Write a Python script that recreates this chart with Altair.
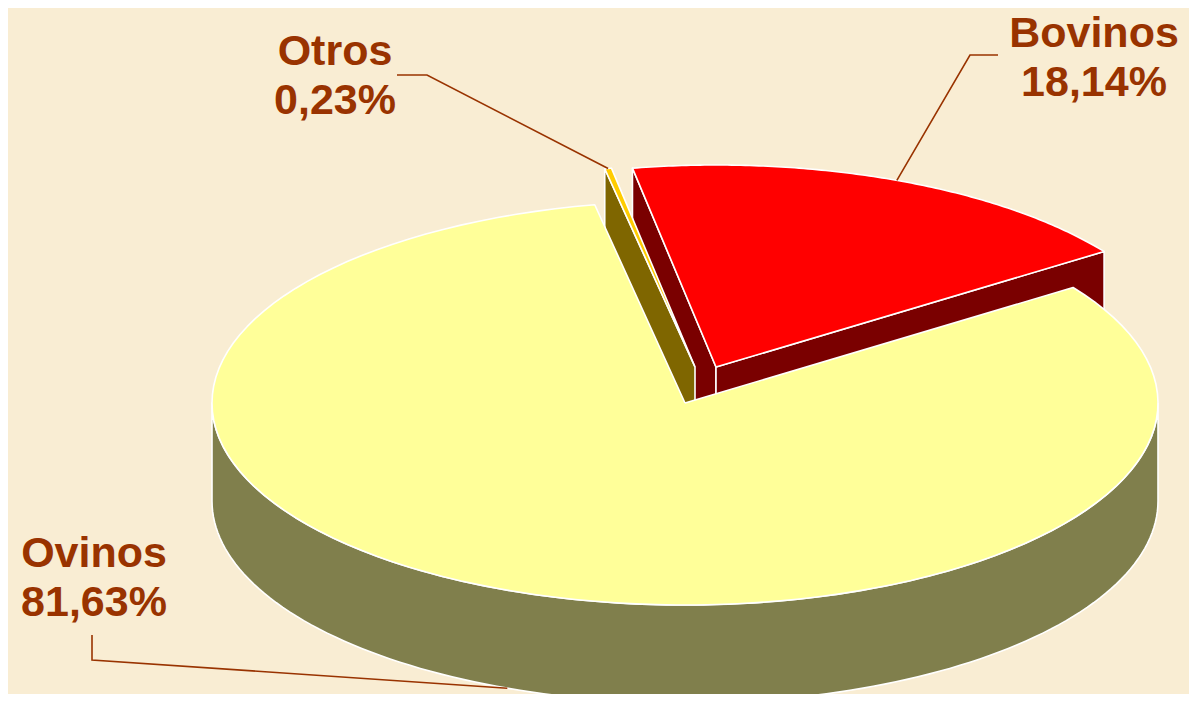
import altair as alt
import pandas as pd

# ---- data ----
categories = ["Otros", "Bovinos", "Ovinos"]
shares = [0.23, 18.14, 81.63]

# ---- style / layout constants ----
top_colors = {"Otros": "#FFCC00", "Bovinos": "#FF0000", "Ovinos": "#FFFF99"}
side_colors = {"Otros": "#7F6600", "Bovinos": "#7A0000", "Ovinos": "#807F4C"}
explode_px = {"Otros": (10, 36), "Bovinos": (31, 36), "Ovinos": (0, 0)}
# text x, first baseline y, leader start x/y, elbow x/y (screen px)
label_layout = {
    "Otros": (335, 65, 397, 75, 427, 75),
    "Bovinos": (1094, 47, 998, 55, 970, 55),
    "Ovinos": (94, 567, 92, 635, 92, 660),
}
LABEL_COLOR = "#993300"
BG = "#F9EDD3"
CX, CY = 685, 403          # pie centre on screen
RX, RY = 473, 202          # ellipse radii
DEPTH = 98                 # pie thickness
START_DEG = -11
N = 120
W, H = 1181, 686

data = pd.DataFrame({"category": categories, "value": shares})

XS = alt.Scale(domain=[8 - CX, 8 - CX + W], nice=False, zero=False)
YS = alt.Scale(domain=[CY - 8 - H, CY - 8], nice=False, zero=False)


def case(mapping, fn):
    expr = "0"
    for k, v in mapping.items():
        expr = f"(datum.category === '{k}' ? {fn(v)} : {expr})"
    return expr


cat_list = "[" + ",".join(f"'{c}'" for c in categories) + "]"


def base():
    return (
        alt.Chart(data)
        .transform_calculate(ord=f"indexof({cat_list}, datum.category)")
        .transform_joinaggregate(total="sum(value)")
        .transform_window(cum="sum(value)", sort=[alt.SortField("ord", order="ascending")], frame=[None, 0])
        .transform_calculate(a0=f"{START_DEG}*PI/180 + 2*PI*(datum.cum - datum.value)/datum.total")
        .transform_calculate(a1=f"{START_DEG}*PI/180 + 2*PI*datum.cum/datum.total")
        .transform_calculate(ex=case(explode_px, lambda v: v[0]))
        .transform_calculate(ey=case(explode_px, lambda v: v[1]))
    )


def enc(chart, detail=None):
    kw = dict(
        x=alt.X("x:Q", scale=XS, axis=None),
        y=alt.Y("y:Q", scale=YS, axis=None),
        order=alt.Order("k:Q"),
    )
    if detail:
        kw["detail"] = detail
    return chart.encode(**kw)


def top(cat):
    ch = (
        base()
        .transform_filter(f"datum.category === '{cat}'")
        .transform_calculate(steps=f"sequence(0, {N + 2})")
        .transform_flatten(["steps"], as_=["k"])
        .transform_calculate(t=f"clamp((datum.k - 1)/{N - 1}, 0, 1)")
        .transform_calculate(c=f"datum.k === 0 || datum.k === {N + 1}")
        .transform_calculate(ang="datum.a0 + (datum.a1 - datum.a0)*datum.t")
        .transform_calculate(x=f"datum.ex + (datum.c ? 0 : {RX}*sin(datum.ang))")
        .transform_calculate(y=f"datum.ey + (datum.c ? 0 : {RY}*cos(datum.ang))")
        .mark_line(fill=top_colors[cat], stroke="white", strokeWidth=1.6, strokeJoin="round")
    )
    return enc(ch)


def rim(cat):
    ch = (
        base()
        .transform_filter(f"datum.category === '{cat}'")
        .transform_calculate(lo="max(datum.a0, PI/2)")
        .transform_calculate(hi="min(datum.a1, 3*PI/2)")
        .transform_filter("datum.lo < datum.hi")
        .transform_calculate(steps=f"sequence(0, {2 * N + 1})")
        .transform_flatten(["steps"], as_=["k"])
        .transform_calculate(
            t=f"datum.k < {N} ? datum.k/{N - 1} : (datum.k < {2 * N} ? 1 - (datum.k - {N})/{N - 1} : 0)"
        )
        .transform_calculate(yoff=f"(datum.k >= {N} && datum.k < {2 * N}) ? {-DEPTH} : 0")
        .transform_calculate(ang="datum.lo + (datum.hi - datum.lo)*datum.t")
        .transform_calculate(x=f"datum.ex + {RX}*sin(datum.ang)")
        .transform_calculate(y=f"datum.ey + {RY}*cos(datum.ang) + datum.yoff")
        .mark_line(fill=side_colors[cat], stroke="white", strokeWidth=1.6, strokeJoin="round")
    )
    return enc(ch)


def walls(cat):
    ch = (
        base()
        .transform_filter(f"datum.category === '{cat}'")
        .transform_calculate(sides="[0, 1]")
        .transform_flatten(["sides"], as_=["w"])
        .transform_calculate(wa="datum.w === 0 ? datum.a0 : datum.a1")
        .transform_calculate(vis="datum.w === 0 ? sin(datum.a0) < 0 : sin(datum.a1) > 0")
        .transform_filter("datum.vis")
        .transform_calculate(corners="sequence(0, 5)")
        .transform_flatten(["corners"], as_=["k"])
        .transform_calculate(outer="datum.k === 1 || datum.k === 2")
        .transform_calculate(low="datum.k === 2 || datum.k === 3")
        .transform_calculate(x=f"datum.ex + (datum.outer ? {RX}*sin(datum.wa) : 0)")
        .transform_calculate(y=f"datum.ey + (datum.outer ? {RY}*cos(datum.wa) : 0) - (datum.low ? {DEPTH} : 0)")
        .mark_line(fill=side_colors[cat], stroke="white", strokeWidth=1.6, strokeJoin="round")
    )
    return enc(ch, detail="w:N")


def leaders():
    ch = (
        base()
        .transform_calculate(mid="(datum.a0 + datum.a1)/2")
        .transform_calculate(ax=f"datum.ex + {RX}*sin(datum.mid)")
        .transform_calculate(ay=f"datum.ey + {RY}*cos(datum.mid) - (cos(datum.mid) < 0 ? {DEPTH} : 0)")
        .transform_calculate(sx=case(label_layout, lambda v: v[2] - CX))
        .transform_calculate(sy=case(label_layout, lambda v: CY - v[3]))
        .transform_calculate(bx=case(label_layout, lambda v: v[4] - CX))
        .transform_calculate(by=case(label_layout, lambda v: CY - v[5]))
        .transform_calculate(steps="sequence(0, 3)")
        .transform_flatten(["steps"], as_=["k"])
        .transform_calculate(x="datum.k === 0 ? datum.sx : (datum.k === 1 ? datum.bx : datum.ax)")
        .transform_calculate(y="datum.k === 0 ? datum.sy : (datum.k === 1 ? datum.by : datum.ay)")
        .mark_line(stroke=LABEL_COLOR, strokeWidth=1.6)
    )
    return enc(ch, detail="category:N")


def texts():
    return (
        base()
        .transform_calculate(x=case(label_layout, lambda v: v[0] - CX))
        .transform_calculate(y=case(label_layout, lambda v: CY - v[1]))
        .transform_calculate(
            label="datum.category + '|' + replace(format(datum.value, '.2f'), '.', ',') + '%'"
        )
        .mark_text(
            align="center",
            baseline="alphabetic",
            lineBreak="|",
            lineHeight=49,
            font="Liberation Sans",
            fontSize=43,
            fontWeight="bold",
            color=LABEL_COLOR,
        )
        .encode(
            x=alt.X("x:Q", scale=XS, axis=None),
            y=alt.Y("y:Q", scale=YS, axis=None),
            text="label:N",
        )
    )


layers = []
for cat in ["Bovinos", "Otros", "Ovinos"]:
    layers += [walls(cat), rim(cat), top(cat)]
layers += [leaders(), texts()]

chart = (
    alt.layer(*layers)
    .properties(
        width=W,
        height=H,
        background=BG,
        padding=0,
        autosize=alt.AutoSizeParams(type="none"),
    )
    .configure_view(stroke=None)
)

chart.save("out.html", embed_options={"renderer": "svg", "actions": False})
